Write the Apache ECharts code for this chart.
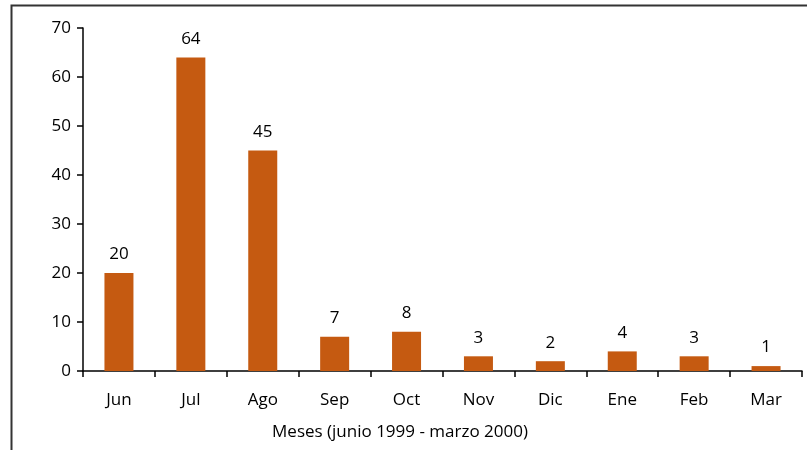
<!DOCTYPE html>
<html>
<head>
<meta charset="utf-8">
<script src="https://cdn.jsdelivr.net/npm/echarts@6/dist/echarts.min.js"></script>
<style>
  html, body { margin: 0; padding: 0; background: #fff; }
  #chart { width: 807px; height: 450px; }
</style>
</head>
<body>
<div id="chart"></div>
<script>
const months = ['Jun', 'Jul', 'Ago', 'Sep', 'Oct', 'Nov', 'Dic', 'Ene', 'Feb', 'Mar']
const counts = [20, 64, 45, 7, 8, 3, 2, 4, 3, 1]
const xTitle = 'Meses (junio 1999 - marzo 2000)'

const font = "'Open Sans', 'Noto Sans', sans-serif"
const chart = echarts.init(document.getElementById('chart'))

chart.setOption({
  animation: false,
  grid: { left: 83, right: 5, top: 28, bottom: 79 },
  xAxis: {
    type: 'category',
    data: months,
    axisLine: { lineStyle: { color: '#000', width: 1.5 } },
    axisTick: { show: true, length: 6, lineStyle: { color: '#000', width: 1.5 } },
    axisLabel: { color: '#000', fontSize: 17, fontFamily: font, margin: 21 },
  },
  yAxis: {
    type: 'value',
    min: 0,
    max: 70,
    interval: 10,
    splitLine: { show: false },
    axisLine: { show: true, lineStyle: { color: '#000', width: 1.5 } },
    axisTick: { show: true, length: 6, lineStyle: { color: '#000', width: 1.5 } },
    axisLabel: { color: '#000', fontSize: 17, fontFamily: font, margin: 12 },
  },
  graphic: [
    {
      type: 'polyline',
      shape: { points: [[11.5, 450], [11.5, 5.5], [807, 5.5]] },
      style: { stroke: '#333', lineWidth: 2, fill: null },
    },
    {
      type: 'text',
      x: 400,
      y: 432,
      style: {
        text: xTitle,
        align: 'center',
        verticalAlign: 'middle',
        fill: '#000',
        fontSize: 17,
        fontFamily: font,
      },
    },
  ],
  series: [{
    type: 'bar',
    data: counts,
    barWidth: 29,
    itemStyle: { color: '#C55A11' },
    label: {
      show: true,
      position: 'top',
      distance: 10,
      color: '#000',
      fontSize: 17,
      fontFamily: font,
    },
  }],
})
</script>
</body>
</html>
